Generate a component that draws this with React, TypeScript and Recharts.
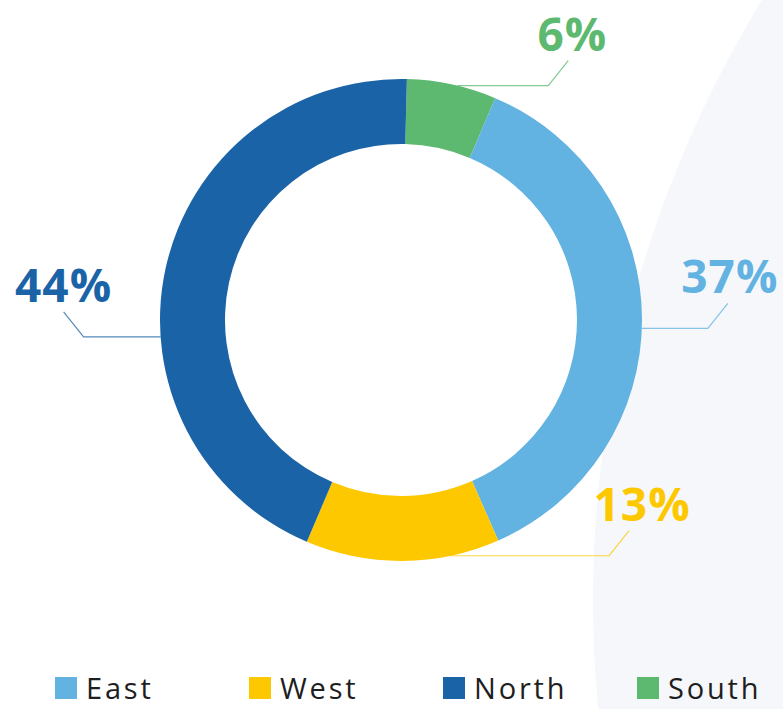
import { Legend, Pie, PieChart } from 'recharts'

// slices in drawing order, clockwise from 12 o'clock
const regions = ['South', 'East', 'West', 'North']
const shares = [6, 37, 13, 44]
const regionColors = ['#5cb96f', '#62b2e2', '#fdc800', '#1b63a7']
const legendOrder = ['East', 'West', 'North', 'South']

const data = regions.map((name, i) => ({ name, value: shares[i], fill: regionColors[i] }))

// where each leader line leaves the ring (compass degrees), flat leg length, text nudge
const leader: Record<string, { angle: number; leg: number; dx: number }> = {
  South: { angle: 13.5, leg: 91, dx: 4 },
  East: { angle: 92, leg: 66, dx: 2 },
  West: { angle: 168, leg: 158, dx: 13 },
  North: { angle: 266, leg: -77, dx: 0 },
}

const FONT = '"Open Sans", "Noto Sans", sans-serif'

function renderLabel(props: any) {
  const { cx, cy, outerRadius, name, value, index } = props
  const cfg = leader[name]
  if (!cfg) return null
  const color = regionColors[index]
  const rad = (cfg.angle * Math.PI) / 180
  const x0 = cx + outerRadius * Math.sin(rad)
  const y0 = cy - outerRadius * Math.cos(rad)
  const dir = cfg.leg >= 0 ? 1 : -1
  const x1 = x0 + cfg.leg
  const x2 = x1 + dir * 20
  const y2 = y0 - 25
  return (
    <g>
      <polyline
        points={`${x0},${y0} ${x1},${y0} ${x2},${y2}`}
        fill="none"
        stroke={color}
        strokeOpacity={0.75}
        strokeWidth={1.2}
      />
      <text
        x={x2 + cfg.dx}
        y={y2 - 10}
        textAnchor="middle"
        fill={color}
        fontFamily={FONT}
        fontWeight={700}
        fontSize={46}
        letterSpacing={1}
      >
        {value}%
      </text>
    </g>
  )
}

function LegendContent() {
  return (
    <div style={{ display: 'flex', paddingLeft: 55, height: 34, alignItems: 'center', fontFamily: FONT }}>
      {legendOrder.map((name) => (
        <div key={name} style={{ width: 194, flexShrink: 0, display: 'flex', alignItems: 'center' }}>
          <span
            style={{
              width: 22,
              height: 22,
              background: regionColors[regions.indexOf(name)],
              marginRight: 9,
              display: 'inline-block',
              flexShrink: 0,
            }}
          />
          <span style={{ fontSize: 29, color: '#1e1e1e', letterSpacing: 2.8, lineHeight: '34px', whiteSpace: 'nowrap' }}>
            {name}
          </span>
        </div>
      ))}
    </div>
  )
}

export default function App() {
  return (
    <div
      style={{
        position: 'absolute',
        left: 0,
        top: 0,
        width: 783,
        height: 709,
        overflow: 'hidden',
        background: '#ffffff',
      }}
    >
      <div
        style={{
          position: 'absolute',
          left: 593,
          top: -550,
          width: 2300,
          height: 2300,
          borderRadius: '50%',
          background: '#f5f7fa',
        }}
      />
      <div style={{ position: 'absolute', left: 0, top: 0 }}>
        <PieChart width={783} height={709} margin={{ top: 0, right: 0, bottom: 0, left: 0 }}>
          <Pie
            data={data}
            dataKey="value"
            nameKey="name"
            cx={401}
            cy={320}
            innerRadius={176}
            outerRadius={241}
            startAngle={88.6}
            endAngle={-271.4}
            stroke="none"
            label={renderLabel}
            labelLine={false}
            isAnimationActive={false}
          />
          <Legend
            content={<LegendContent />}
            wrapperStyle={{ left: 0, top: 671, width: 783, height: 34 }}
          />
        </PieChart>
      </div>
    </div>
  )
}
